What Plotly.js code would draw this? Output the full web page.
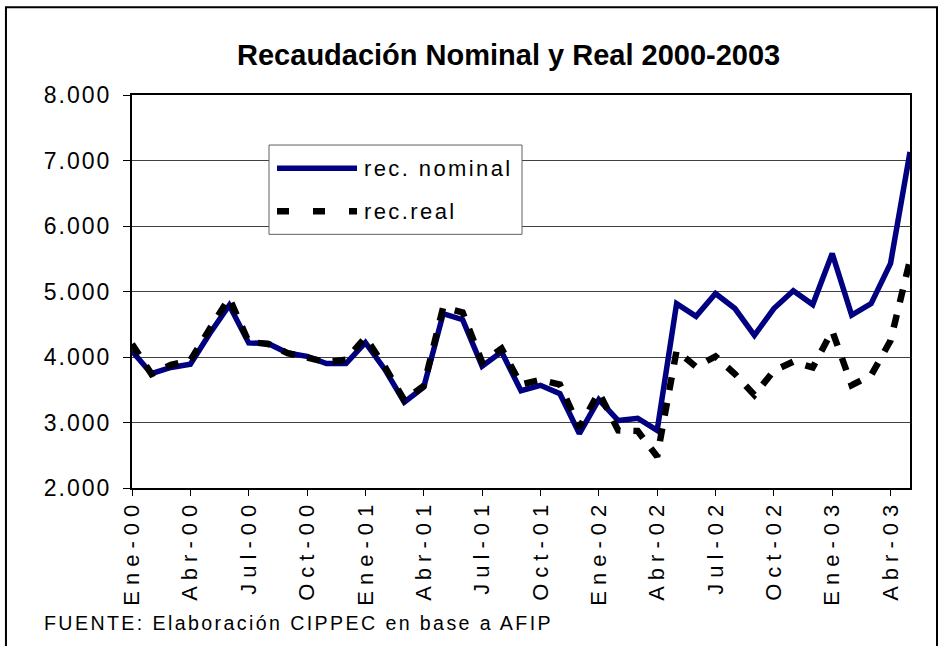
<!DOCTYPE html>
<html>
<head>
<meta charset="utf-8">
<script src="https://cdn.plot.ly/plotly-3.0.1.min.js"></script>
<style>
  html, body { margin: 0; padding: 0; background: #fff; }
  #chart { width: 949px; height: 646px; }
  .xtick text { letter-spacing: 6px; }
  .ytick text { letter-spacing: 2px; }
  .annotation-text { letter-spacing: 2.4px; }
</style>
</head>
<body>
<div id="chart"></div>
<script>
const months = ["Ene","Feb","Mar","Abr","May","Jun","Jul","Ago","Sep","Oct","Nov","Dic"];
const years = ["00","01","02","03"];
const categories = [];
for (const y of years) for (const m of months) categories.push(m + "-" + y);
categories.length = 41; // Ene-00 .. May-03

const recNominal = [4090,3745,3840,3890,4360,4790,4215,4205,4060,4010,3900,3900,
                    4220,3810,3310,3540,4662,4570,3860,4078,3485,3568,3440,2830,
                    3350,3030,3065,2880,4815,4620,4970,4740,4330,4740,5010,4800,
                    5580,4640,4815,5430,7130];
const recReal    = [4200,3740,3880,3950,4430,4900,4230,4200,4060,4000,3920,3960,
                    4300,3850,3340,3560,4760,4680,3920,4130,3580,3650,3580,2920,
                    3460,2880,2870,2480,4100,3850,4010,3740,3420,3790,3930,3840,
                    4400,3570,3720,4250,5480];
const tickLabels = categories.filter((c, i) => i % 3 === 0);

const FONT = "Liberation Sans, Arial, sans-serif";

const traces = [
  { x: categories, y: recNominal, type: "scatter", mode: "lines", name: "rec. nominal",
    line: { color: "#000080", width: 5.5 }, hoverinfo: "x+y" },
  { x: categories, y: recReal, type: "scatter", mode: "lines", name: "rec.real",
    line: { color: "#000000", width: 6.5, dash: "13px,13px" }, hoverinfo: "x+y" }
];

const layout = {
  width: 949, height: 646,
  margin: { l: 132, r: 39, t: 95, b: 158 },
  paper_bgcolor: "#ffffff", plot_bgcolor: "#ffffff",
  separators: ",.",
  showlegend: false,
  font: { family: FONT, color: "#000" },
  title: { text: "<b>Recaudación Nominal y Real 2000-2003</b>",
           font: { family: FONT, size: 29, color: "#000" },
           x: 0.536, xref: "container", xanchor: "center",
           y: 0.915, yref: "container", yanchor: "middle" },
  xaxis: {
    type: "category", range: [0, 40],
    tickmode: "array", tickvals: tickLabels, ticktext: tickLabels,
    tickangle: -90, tickfont: { family: FONT, size: 22, color: "#000" },
    ticks: "outside", ticklen: 6, tickcolor: "#000", tickwidth: 1,
    ticklabelstandoff: -6,
    showline: true, linecolor: "#000", linewidth: 2, mirror: true,
    showgrid: false, zeroline: false
  },
  yaxis: {
    range: [2000, 8000], dtick: 1000, tick0: 2000, tickformat: ",.0f",
    tickfont: { family: FONT, size: 23, color: "#000" },
    ticks: "outside", ticklen: 7, tickcolor: "#000", tickwidth: 1,
    ticklabelstandoff: 7,
    showline: true, linecolor: "#000", linewidth: 2, mirror: true,
    showgrid: true, gridcolor: "#404040", gridwidth: 1, zeroline: false
  },
  shapes: [
    // outer chart frame
    { type: "rect", xref: "paper", yref: "paper", x0: -0.162, x1: 1.0347, y0: -0.42, y1: 1.2233,
      line: { color: "#000", width: 2 }, fillcolor: "rgba(0,0,0,0)", layer: "below" },
    // legend box
    { type: "rect", xref: "paper", yref: "paper", x0: 0.1761, x1: 0.5013, y0: 0.6454, y1: 0.8727,
      line: { color: "#606060", width: 1 }, fillcolor: "#ffffff", layer: "above" },
    { type: "line", xref: "paper", yref: "paper", x0: 0.1864, x1: 0.2892, y0: 0.8134, y1: 0.8134,
      line: { color: "#000080", width: 5.5 }, layer: "above" },
    { type: "line", xref: "paper", yref: "paper", x0: 0.1864, x1: 0.2892, y0: 0.7039, y1: 0.7039,
      line: { color: "#000000", width: 6.5, dash: "12px,24px" }, layer: "above" }
  ],
  annotations: [
    { text: "rec. nominal", xref: "paper", yref: "paper", x: 0.2956, y: 0.8134,
      xanchor: "left", yanchor: "middle", showarrow: false,
      font: { family: FONT, size: 22, color: "#000" } },
    { text: "rec.real", xref: "paper", yref: "paper", x: 0.2956, y: 0.7039,
      xanchor: "left", yanchor: "middle", showarrow: false,
      font: { family: FONT, size: 22, color: "#000" } },
    { text: "FUENTE: Elaboración CIPPEC en base a AFIP", xref: "paper", yref: "paper",
      x: -0.1157, y: -0.3424, xanchor: "left", yanchor: "middle", showarrow: false,
      font: { family: FONT, size: 19.6, color: "#000" } }
  ]
};

Plotly.newPlot("chart", traces, layout, { displayModeBar: false, staticPlot: true });
</script>
</body>
</html>
